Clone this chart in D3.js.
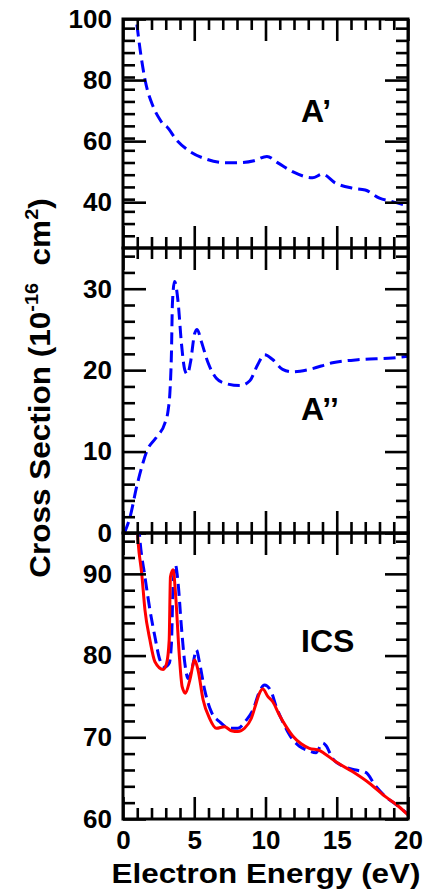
<!DOCTYPE html>
<html>
<head>
<meta charset="utf-8">
<script src="https://cdn.jsdelivr.net/npm/d3@7"></script>
<style>
  body { margin: 0; background: #fff; }
  svg text { font-family: "Liberation Sans", Arial, sans-serif; font-weight: bold; fill: #000; }
</style>
</head>
<body>
<svg width="427" height="892"></svg>
<script>
// A' (blue dashed, top panel)
var aPrimeX = [0.8, 0.96, 1.2, 1.55, 2.1, 2.6, 2.8, 3.05, 3.75, 4.7, 5.85, 7.2, 8.3, 9.2, 10.1, 10.9, 11.9, 13.3, 14.0, 14.9, 16.1, 17.0, 18.0, 18.9, 20];
var aPrimeY = [104, 98.7, 90, 80, 71.5, 67, 65.6, 64.8, 60.4, 56.6, 54.1, 52.9, 53, 53.6, 55, 52.8, 50, 48, 49.2, 46.3, 44.6, 44, 41.3, 40.2, 38.7];

// A'' (blue dashed, middle panel)
var aDblX = [0.1, 0.5, 0.96, 1.3, 1.66, 2.36, 2.94, 3.17, 3.29, 3.4, 3.47, 3.62, 3.87, 4.1, 4.34, 4.52, 4.73, 5.03, 5.2, 5.5, 5.97, 6.55, 7.13, 8.2, 8.9, 9.46, 9.93, 10.5, 11.2, 11.9, 13.1, 14.7, 16.6, 18.9, 20];
var aDblY = [0, 2, 5.7, 8, 10, 11.8, 13.5, 15.1, 17.2, 22.1, 28.3, 30.9, 28.3, 23.3, 20, 19.5, 20.9, 24.5, 25, 23.5, 20.9, 19, 18.4, 18.1, 18.7, 20.7, 21.9, 21.3, 20.1, 19.8, 20.1, 20.9, 21.3, 21.5, 21.7];

// ICS, blue dashed
var icsBlueX = [1.1, 1.19, 1.54, 1.89, 2.24, 2.59, 2.94, 3.24, 3.4, 3.52, 3.68, 3.87, 4.1, 4.34, 4.57, 4.87, 5.15, 5.38, 5.73, 6.2, 6.78, 7.48, 8.06, 8.65, 9.11, 9.58, 9.93, 10.4, 10.75, 11.21, 11.68, 12.38, 12.96, 13.54, 14.01, 14.24, 14.71, 15.41, 16.34, 17.04, 17.74, 18.44, 19.14, 20];
var icsBlueY = [96, 94.1, 89.65, 85.6, 82.3, 79.45, 78.6, 79.05, 81.5, 88.8, 91.1, 88.8, 83.5, 79.05, 77.2, 78.6, 80.7, 79.05, 75.8, 73.1, 71.9, 71.1, 71.1, 72.1, 73.3, 75.6, 76.4, 75.6, 73.75, 71.9, 70.3, 68.9, 68.4, 68.1, 69.3, 69.0, 67.4, 66.5, 66.0, 65.7, 64.0, 62.7, 61.8, 60.6];

// ICS, red solid
var icsRedX = [1.0, 1.07, 1.31, 1.54, 1.89, 2.24, 2.82, 3.06, 3.24, 3.33, 3.52, 3.7, 3.94, 4.15, 4.38, 4.69, 5.03, 5.27, 5.62, 6.08, 6.55, 7.13, 7.6, 8.06, 8.53, 9.0, 9.35, 9.58, 9.81, 10.16, 10.51, 10.98, 11.45, 11.91, 12.5, 13.08, 13.78, 14.1, 14.94, 16.1, 17.27, 18.44, 19.37, 20];
var icsRedY = [95.5, 93.7, 90.1, 85.6, 81.9, 79.25, 78.3, 79.05, 81.9, 89.65, 90.5, 87.2, 80.3, 76.2, 75.4, 77, 79.45, 78.2, 74.6, 72.3, 71.1, 71.3, 70.8, 70.7, 71.1, 72.3, 74.2, 75.4, 75.9, 75.0, 74.35, 72.7, 71.3, 70.15, 69.2, 68.65, 68.4, 68.05, 67.0, 65.8, 64.4, 62.7, 61.5, 60.5];

var xMajor = [0, 5, 10, 15, 20];
var xMinor = d3.range(0, 21, 1).filter(v => v % 5 !== 0);

var svg = d3.select('svg');
var left = 123, right = 408;
var x = d3.scaleLinear().domain([0, 20]).range([left, right]);

var panels = [
  { id: 'top', domain: [25, 100], range: [248, 19], major: [40, 60, 80, 100], minorStep: 4, label: 'A\u2019', labelY: 122,
    series: [{ xs: aPrimeX, ys: aPrimeY, color: '#0000ff', dash: '12,6' }] },
  { id: 'mid', domain: [0, 35], range: [533, 248], major: [0, 10, 20, 30], minorStep: 2, label: 'A\u2019\u2019', labelY: 420,
    series: [{ xs: aDblX, ys: aDblY, color: '#0000ff', dash: '12,6' }] },
  { id: 'bot', domain: [60, 95], range: [819, 533], major: [60, 70, 80, 90], minorStep: 2, label: 'ICS', labelY: 652,
    series: [{ xs: icsBlueX, ys: icsBlueY, color: '#0000ff', dash: '12,6' },
             { xs: icsRedX, ys: icsRedY, color: '#ff0000', dash: null }] }
];

panels.forEach(function(p, pi) {
  var y = d3.scaleLinear().domain(p.domain).range(p.range);
  var top = p.range[1], bottom = p.range[0];
  var yMinor = d3.range(p.domain[0], p.domain[1] + 0.001, p.minorStep)
                  .filter(v => p.major.indexOf(v) === -1 && v > p.domain[0] && v < p.domain[1]);

  svg.append('clipPath')
      .attr('id', 'clip-' + p.id)
    .append('rect')
      .attr('x', left)
      .attr('y', top)
      .attr('width', right - left)
      .attr('height', bottom - top);

  var line = d3.line()
      .x(d => x(d[0]))
      .y(d => y(d[1]))
      .curve(d3.curveMonotoneX);

  var g = svg.append('g').attr('clip-path', 'url(#clip-' + p.id + ')');
  p.series.forEach(function(s) {
    g.append('path')
        .datum(s.xs.map((v, i) => [v, s.ys[i]]))
        .attr('d', line)
        .attr('fill', 'none')
        .attr('stroke', s.color)
        .attr('stroke-width', 3)
        .attr('stroke-dasharray', s.dash)
        .attr('stroke-linejoin', 'round');
  });

  // y axes (ticks inward)
  svg.append('g').attr('class', 'axis').attr('transform', 'translate(' + left + ',0)')
      .call(d3.axisLeft(y).tickValues(p.major).tickSize(-23).tickPadding(11).tickFormat(d3.format('d')));
  svg.append('g').attr('class', 'axis').attr('transform', 'translate(' + left + ',0)')
      .call(d3.axisLeft(y).tickValues(yMinor).tickSize(-12).tickFormat(''));
  svg.append('g').attr('class', 'axis').attr('transform', 'translate(' + right + ',0)')
      .call(d3.axisRight(y).tickValues(p.major).tickSize(-23).tickFormat(''));
  svg.append('g').attr('class', 'axis').attr('transform', 'translate(' + right + ',0)')
      .call(d3.axisRight(y).tickValues(yMinor).tickSize(-12).tickFormat(''));

  // x axes, top and bottom of each panel
  svg.append('g').attr('class', 'axis').attr('transform', 'translate(0,' + top + ')')
      .call(d3.axisTop(x).tickValues(xMajor).tickSize(-22).tickFormat(''));
  svg.append('g').attr('class', 'axis').attr('transform', 'translate(0,' + top + ')')
      .call(d3.axisTop(x).tickValues(xMinor).tickSize(-11).tickFormat(''));
  svg.append('g').attr('class', 'axis').attr('transform', 'translate(0,' + bottom + ')')
      .call(d3.axisBottom(x).tickValues(xMajor).tickSize(-22).tickPadding(12)
        .tickFormat(pi === panels.length - 1 ? d3.format('d') : ''));
  svg.append('g').attr('class', 'axis').attr('transform', 'translate(0,' + bottom + ')')
      .call(d3.axisBottom(x).tickValues(xMinor).tickSize(-11).tickFormat(''));

  svg.append('rect')
      .attr('x', left)
      .attr('y', top)
      .attr('width', right - left)
      .attr('height', bottom - top)
      .attr('fill', 'none')
      .attr('stroke', '#000')
      .attr('stroke-width', 3);

  svg.append('text')
      .attr('x', 301)
      .attr('y', p.labelY)
      .attr('font-size', 32)
      .text(p.label);
});

svg.selectAll('.axis .domain').remove();
svg.selectAll('.axis line').attr('stroke', '#000').attr('stroke-width', 2.6);
svg.selectAll('.axis text')
    .attr('font-size', 26)
    .style('font-family', '"Liberation Sans", Arial, sans-serif')
    .style('font-weight', 'bold')
    .attr('fill', '#000');

// axis titles
svg.append('text')
    .attr('x', 266)
    .attr('y', 883)
    .attr('text-anchor', 'middle')
    .attr('font-size', 27)
    .attr('textLength', 309)
    .attr('lengthAdjust', 'spacingAndGlyphs')
    .text('Electron Energy (eV)');

var yTitle = svg.append('text')
    .attr('transform', 'translate(50,388) rotate(-90) scale(1.05,1)')
    .attr('text-anchor', 'middle')
    .attr('font-size', 30);
yTitle.append('tspan').text('Cross Section (10');
yTitle.append('tspan').attr('font-size', 19).attr('dy', -12).text('-16');
yTitle.append('tspan').attr('font-size', 30).attr('dy', 12).text('\u00a0 cm');
yTitle.append('tspan').attr('font-size', 19).attr('dy', -12).text('2');
yTitle.append('tspan').attr('font-size', 30).attr('dy', 12).text(')');
</script>
</body>
</html>
